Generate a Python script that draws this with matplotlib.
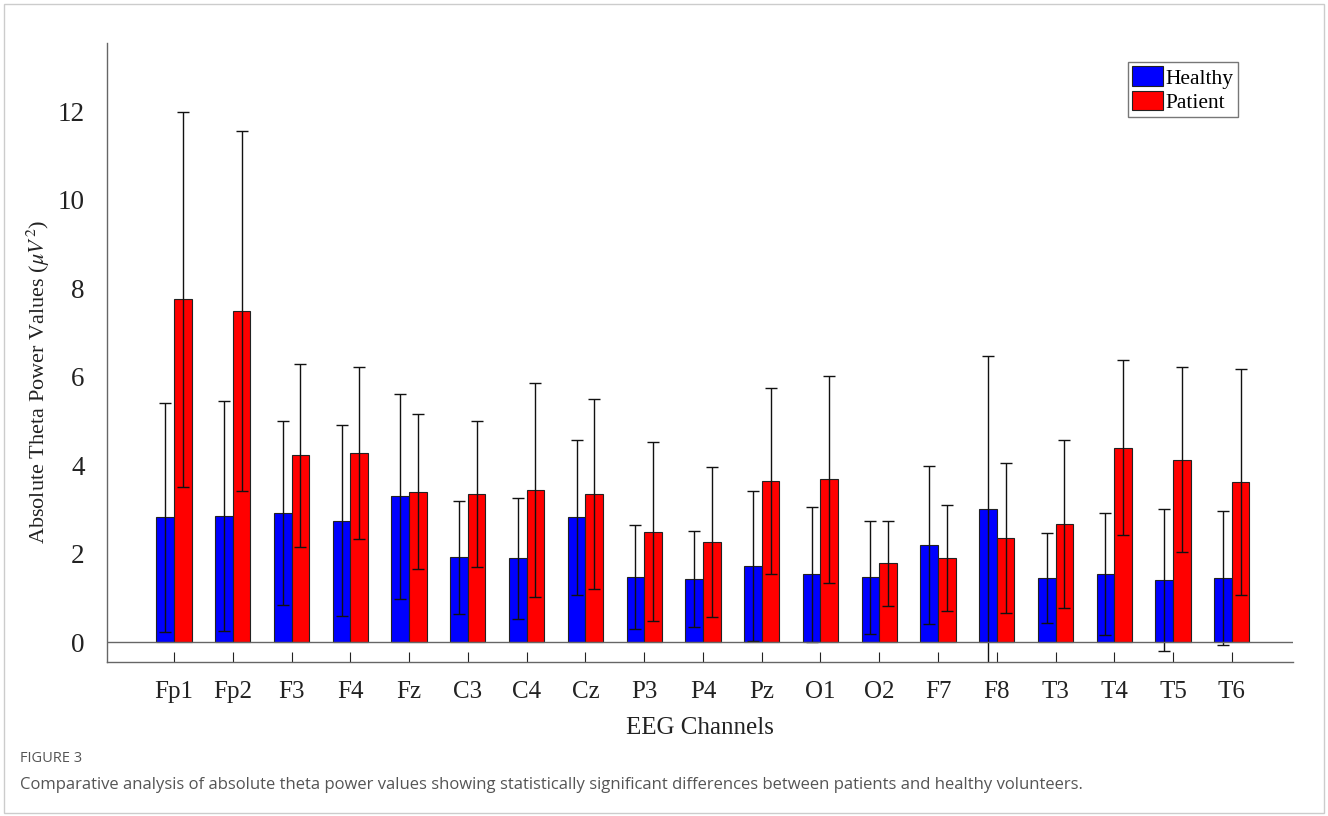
import numpy as np
import matplotlib
matplotlib.use("Agg")
import matplotlib.pyplot as plt
from matplotlib.patches import Rectangle

# channel names and group statistics (mean +/- sd)
channels = ['Fp1', 'Fp2', 'F3', 'F4', 'Fz', 'C3', 'C4', 'Cz', 'P3', 'P4',
            'Pz', 'O1', 'O2', 'F7', 'F8', 'T3', 'T4', 'T5', 'T6']
healthy_mean = [2.82, 2.85, 2.92, 2.75, 3.30, 1.92, 1.90, 2.82, 1.47, 1.43,
                1.72, 1.53, 1.47, 2.20, 3.00, 1.45, 1.55, 1.40, 1.45]
healthy_sd = [2.58, 2.60, 2.08, 2.15, 2.32, 1.28, 1.37, 1.75, 1.18, 1.09,
              1.70, 1.52, 1.28, 1.78, 3.47, 1.02, 1.38, 1.60, 1.52]
patient_mean = [7.75, 7.48, 4.23, 4.28, 3.40, 3.35, 3.44, 3.35, 2.50, 2.27,
                3.65, 3.68, 1.78, 1.90, 2.35, 2.68, 4.40, 4.13, 3.62]
patient_sd = [4.25, 4.07, 2.07, 1.95, 1.75, 1.65, 2.43, 2.15, 2.03, 1.70,
              2.10, 2.35, 0.97, 1.20, 1.70, 1.90, 1.98, 2.10, 2.55]

plt.rcParams['font.family'] = 'Liberation Serif'
plt.rcParams['mathtext.fontset'] = 'stix'

fig = plt.figure(figsize=(13.28, 8.16), dpi=100)
ax = fig.add_axes([0.0806, 0.1887, 0.893, 0.7586])

x = np.arange(1, len(channels) + 1)
w = 0.3
ax.bar(x - w/2, healthy_mean, w, color='#0000ff', edgecolor='#222222', linewidth=0.8, label='Healthy')
ax.bar(x + w/2, patient_mean, w, color='#ff0000', edgecolor='#222222', linewidth=0.8, label='Patient')
ax.errorbar(x - w/2, healthy_mean, yerr=healthy_sd, fmt='none', ecolor='#111111',
            elinewidth=1.0, capsize=4, capthick=1.0)
ax.errorbar(x + w/2, patient_mean, yerr=patient_sd, fmt='none', ecolor='#111111',
            elinewidth=1.0, capsize=4, capthick=1.0)
ax.axhline(0, color='#666666', linewidth=1.0)

ax.set_xlim(-0.14, 20.04)
ax.set_ylim(-0.45, 13.55)
ax.set_xticks(x)
ax.set_xticklabels(channels)
ax.set_yticks(np.arange(0, 13, 2))
ax.tick_params(axis='both', labelsize=18, colors='#222222', direction='in', length=7, width=0.8)
ax.tick_params(axis='x', pad=14)
ax.tick_params(axis='y', labelsize=19.5, pad=16, length=0)
for s in ['top', 'right']:
    ax.spines[s].set_visible(False)
for s in ['left', 'bottom']:
    ax.spines[s].set_color('#666666')
    ax.spines[s].set_linewidth(1.0)

ax.set_xlabel('EEG Channels', fontsize=18, color='#222222', labelpad=10)
ax.set_ylabel(r'Absolute Theta Power Values ($\mu V^2$)', fontsize=16, color='#222222')
ax.yaxis.set_label_coords(-0.046, 0.452)

leg = ax.legend(loc='upper right', bbox_to_anchor=(0.9536, 0.969), fontsize=15.5, frameon=True, fancybox=False,
                handlelength=1.45, handleheight=1.0, handletextpad=0.1, borderpad=0.2, labelspacing=0.1,
                borderaxespad=0)
leg.get_frame().set_edgecolor('#555555')
leg.get_frame().set_linewidth(1.0)

fig.text(0.015, 0.066, 'FIGURE 3', fontsize=10.5, color='#555555', family='Open Sans')
fig.text(0.015, 0.033, 'Comparative analysis of absolute theta power values showing statistically '
         'significant differences between patients and healthy volunteers.',
         fontsize=12, color='#555555', family='Open Sans')

fig.patches.append(Rectangle((0.003, 0.004), 0.994, 0.991, transform=fig.transFigure,
                             fill=False, edgecolor='#cccccc', linewidth=1.0))

fig.savefig('out.png', dpi=100)
